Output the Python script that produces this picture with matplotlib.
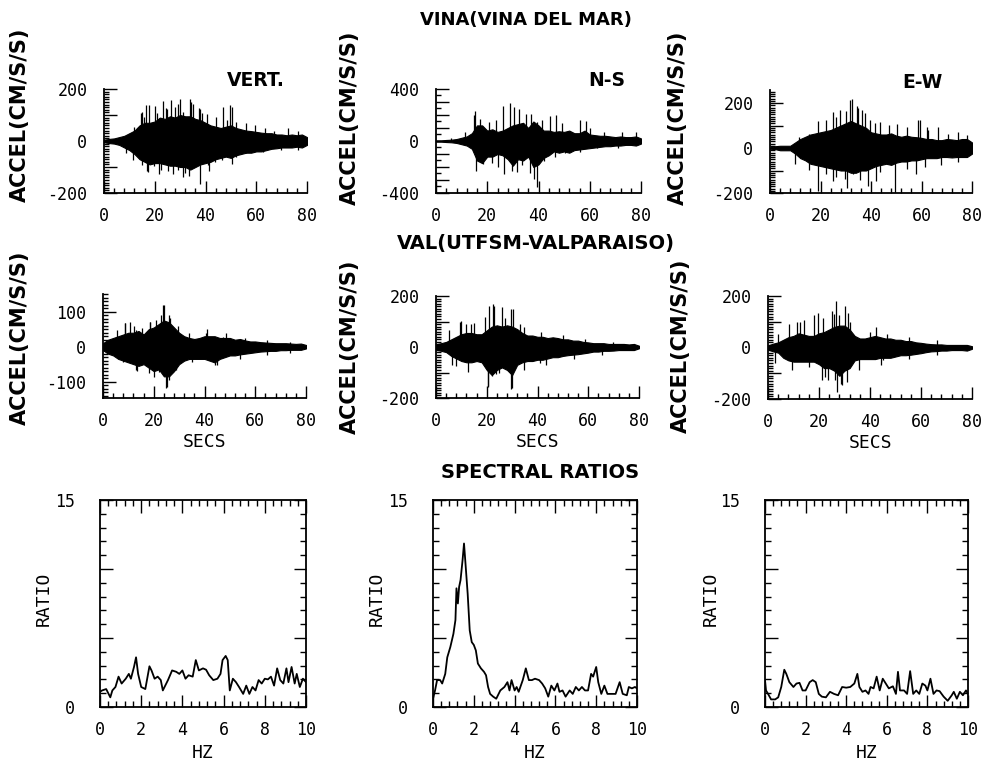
import numpy as np
import matplotlib
matplotlib.use('Agg')
import matplotlib.pyplot as plt
from matplotlib.ticker import MultipleLocator, FuncFormatter

plt.rcParams['axes.unicode_minus'] = False

W, H = 986, 762

## Accelerogram envelopes, sampled every 2 s (cm/s/s)
t_env = np.arange(0, 81, 2)

vina_vert_up = [5, 8, 10, 15, 20, 30, 40, 60, 70, 70, 75, 90, 85, 95, 90, 100, 95, 95, 85, 80, 70,
                60, 55, 50, 55, 60, 50, 45, 40, 38, 35, 32, 30, 30, 25, 25, 22, 25, 22, 25, 15]
vina_vert_lo = [-5, -8, -10, -15, -25, -35, -50, -70, -80, -90, -85, -85, -90, -95, -95, -100, -100, -110, -100, -90, -85,
                -80, -70, -65, -60, -65, -55, -50, -45, -45, -40, -40, -35, -30, -28, -25, -25, -25, -22, -25, -15]
vina_vert_spk_t = [15, 16.7, 20, 23.3, 25, 28, 30, 33.7, 35, 38, 40.7, 48.5, 50.5,
                   17.4, 21.6, 27, 31, 33.5, 38, 41.3, 50.5,
                   12, 14.5, 15.9, 17.6, 21, 24.4, 26.5, 29.2, 31.3, 34.3, 37.4, 38.8, 44.3, 47, 49.8,
                   51.9, 56, 59.4, 63.5, 67, 72.4, 76.5,
                   8.6, 11.4, 14.8, 16.9, 19.6, 22.4, 25.1, 29.2, 32, 35.4, 40.9, 43.6, 46.4, 52, 56,
                   62.8, 69.7, 76.5]
vina_vert_spk_v = [110, 140, 135, 155, 122, 132, 160, 162, 141, 122, 104, 79, 129,
                   -121, -127, -127, -140, -134, -165, -115, -90,
                   55, 106, 94, 138, 106, 125, 158, 144, 113, 151, 125, 106, 94, 132, 138,
                   74, 68, 61, 49, 38, 49, 38,
                   -48, -73, -92, -117, -98, -112, -117, -112, -124, -98, -92, -79, -73, -60, -48,
                   -41, -34, -34]

vina_ns_up = [5, 5, 8, 10, 15, 25, 35, 60, 120, 120, 80, 90, 70, 80, 100, 120, 130, 140, 100, 150, 120,
              80, 80, 70, 75, 70, 80, 60, 60, 80, 50, 45, 40, 40, 35, 30, 35, 30, 30, 35, 20]
vina_ns_lo = [-5, -5, -8, -10, -15, -25, -35, -60, -150, -170, -120, -120, -100, -110, -140, -190, -140, -150, -120, -200, -180,
              -130, -110, -80, -90, -80, -90, -70, -65, -60, -55, -50, -45, -40, -40, -35, -35, -30, -30, -35, -20]
vina_ns_spk_t = [15.3, 17, 28.8, 32.5, 35, 37, 44.5, 58.5,
                 15.5, 18.5, 26.5, 29.5, 36.5, 38.3, 39.3, 42,
                 5.8, 11.3, 14.7, 20.8, 23.5, 26.2, 30.5, 39.5, 41.2, 47, 49.3, 56.1, 60.2, 65.6, 72.4, 77.9,
                 17.8, 21.9, 24, 31.5, 33.5, 41.7, 46.5, 50.5, 56, 62.9, 71]
vina_ns_spk_v = [232, 170, 290, 245, 208, 208, 195, 150,
                 -230, -180, -255, -230, -243, -292, -355, -155,
                 20, 72, 200, 148, 161, 270, 264, 148, 161, 200, 136, 161, 97, 72, 72, 72,
                 -146, -172, -197, -236, -184, -133, -120, -95, -82, -56, -56]

vina_ew_up = [3, 8, 10, 10, 10, 25, 40, 50, 60, 65, 70, 75, 80, 90, 100, 110, 120, 110, 100, 90, 70,
              65, 60, 60, 65, 55, 50, 55, 50, 48, 45, 40, 40, 35, 35, 40, 38, 35, 40, 40, 25]
vina_ew_lo = [-3, -5, -10, -10, -10, -25, -45, -55, -70, -75, -80, -85, -90, -95, -100, -100, -110, -110, -100, -100, -90,
              -80, -75, -70, -75, -65, -60, -60, -55, -55, -50, -45, -45, -45, -40, -40, -42, -40, -40, -40, -25]
vina_ew_spk_t = [19.2, 26, 30, 32.5, 35, 37.5, 41.5, 59.5, 62,
                 19, 25, 30.5, 39, 42, 49.5, 58,
                 11.4, 15.5, 22.2, 24.9, 27.6, 31.6, 34.3, 36.3, 39.7, 43.7, 47, 50.4, 54.4, 58.5, 62.5,
                 66.5, 70.6, 74.6, 78,
                 10, 15.5, 22.2, 26.2, 29.6, 32.9, 35.6, 43.7, 54.4, 61.2, 67.9, 74.6]
vina_ew_spk_v = [118, 136, 164, 217, 179, 156, 110, 126, 95,
                 -192, -147, -177, -170, -147, -200, -117,
                 49, 64, 123, 160, 167, 212, 189, 167, 123, 115, 101, 108, 93, 123, 78,
                 93, 64, 71, 56,
                 -70, -99, -114, -129, -136, -114, -144, -107, -92, -84, -77, -62]

val_vert_up = [10, 20, 25, 30, 35, 40, 40, 45, 35, 50, 55, 65, 75, 70, 55, 40, 30, 25, 22, 25, 30,
               30, 30, 25, 25, 25, 20, 22, 18, 15, 15, 13, 12, 11, 10, 10, 10, 9, 8, 9, 5]
val_vert_lo = [-10, -20, -25, -35, -40, -45, -50, -55, -50, -60, -70, -65, -85, -85, -70, -50, -40, -35, -35, -35, -35,
               -40, -45, -35, -30, -25, -25, -22, -20, -18, -16, -14, -13, -12, -12, -10, -10, -9, -9, -9, -5]
val_vert_spk_t = [8.5, 10.5, 13, 18.5, 23, 24, 26, 41, 48.5,
                  13.5, 18, 20, 25, 26, 45,
                  5.5, 8.8, 12.1, 15.4, 18.7, 20.9, 23.7, 26.4, 29.7, 34, 40.7, 47.3, 56, 64.8, 73.6,
                  7.7, 13.2, 18.7, 22, 25.3, 28.6, 35.2, 44, 53.8, 64.8, 73.6]
val_vert_spk_v = [67, 71, 48, 71, 90, 119, 90, 52, 38,
                  -71, -76, -86, -119, -95, -52,
                  48, 67, 58, 53, 72, 77, 120, 82, 58, 38, 38, 29, 24, 19, 14,
                  -43, -67, -62, -72, -115, -67, -43, -53, -34, -24, -19]

val_ns_up = [10, 15, 20, 30, 40, 50, 55, 55, 50, 50, 65, 80, 85, 80, 85, 80, 70, 55, 45, 45, 40,
             40, 35, 38, 35, 30, 30, 25, 25, 20, 18, 15, 15, 15, 12, 12, 12, 12, 10, 12, 5]
val_ns_lo = [-10, -15, -20, -35, -45, -55, -60, -60, -55, -60, -90, -110, -90, -80, -90, -110, -70, -60, -55, -55, -50,
             -50, -45, -40, -40, -35, -32, -30, -28, -25, -22, -18, -18, -15, -15, -14, -12, -12, -12, -12, -5]
val_ns_spk_t = [10, 12, 15, 21, 23, 27, 29.5, 33,
                8, 20.5, 22, 25, 30, 41,
                5.1, 9.5, 13.8, 19.3, 22.6, 25.9, 30.3, 34.7, 41.3, 50.1, 58.9, 69.9,
                6.2, 12.7, 20.4, 23.7, 29.6, 34.7, 43.5, 54.5, 65.5]
val_ns_spk_v = [102, 89, 95, 161, 161, 115, 148, 89,
                -75, -153, -114, -100, -160, -61,
                66, 98, 92, 118, 170, 157, 150, 79, 59, 46, 33, 20,
                -72, -98, -157, -105, -164, -92, -72, -46, -33]

val_ew_up = [8, 15, 20, 30, 40, 45, 55, 50, 45, 45, 55, 60, 70, 80, 85, 85, 70, 45, 35, 35, 40,
             45, 40, 35, 35, 30, 30, 25, 25, 20, 18, 15, 13, 12, 12, 10, 10, 10, 10, 10, 5]
val_ew_lo = [-8, -15, -20, -40, -50, -55, -55, -55, -55, -55, -65, -80, -80, -90, -110, -90, -80, -50, -45, -45, -45,
             -45, -40, -40, -40, -35, -30, -30, -28, -25, -22, -18, -15, -14, -12, -12, -10, -10, -10, -12, -5]
val_ew_spk_t = [11.5, 14, 19.5, 25, 26.5, 28, 30, 31.5, 42.5,
                21, 23.5, 27, 28.5, 31, 45,
                3.9, 8.3, 12.7, 18.1, 21.4, 25.8, 32.3, 40, 46.6, 55.3, 66.2,
                2.8, 9.4, 16, 22.5, 26.4, 29.1, 35.6, 44.4, 55.3, 66.2]
val_ew_spk_v = [100, 107, 133, 140, 180, 127, 160, 133, 80,
                -127, -127, -173, -140, -133, -47,
                54, 93, 100, 126, 113, 132, 100, 61, 54, 41, 28,
                -62, -88, -75, -114, -127, -146, -88, -69, -43, -30]

## Spectral ratios VINA / VAL
vert_f = [0.0, 0.1, 0.3, 0.5, 0.6, 0.75, 0.9, 1.05, 1.25, 1.4, 1.5, 1.65, 1.75, 1.85, 2.0, 2.2, 2.4, 2.5,
          2.65, 2.8, 2.95, 3.05, 3.3, 3.5, 3.7, 3.85, 4.0, 4.15, 4.3, 4.5, 4.65, 4.8, 5.0, 5.15, 5.3, 5.5,
          5.7, 5.85, 5.95, 6.1, 6.2, 6.3, 6.45, 6.6, 6.75, 6.95, 7.1, 7.25, 7.4, 7.55, 7.7, 7.85, 8.0, 8.15,
          8.3, 8.45, 8.6, 8.75, 8.9, 9.05, 9.15, 9.3, 9.45, 9.55, 9.7, 9.85, 10.0]
vert_r = [1.1, 1.2, 1.3, 0.7, 1.2, 1.45, 2.2, 1.7, 2.05, 2.4, 2.05, 2.9, 3.6, 2.4, 1.45, 1.3, 2.95, 2.65,
          2.05, 2.2, 1.95, 1.2, 1.95, 2.65, 2.55, 2.4, 2.65, 2.05, 2.3, 2.2, 3.4, 2.65, 2.8, 2.7, 2.3, 1.95,
          2.05, 2.4, 3.4, 3.7, 3.4, 1.2, 2.05, 1.8, 1.45, 0.95, 1.55, 0.95, 1.45, 1.2, 1.95, 1.7, 2.05, 2.0,
          2.2, 1.55, 2.8, 1.95, 1.7, 2.8, 1.8, 2.9, 1.7, 2.4, 1.45, 2.05, 1.8]

ns_f = [0.0, 0.1, 0.2, 0.35, 0.45, 0.6, 0.7, 0.85, 1.0, 1.1, 1.15, 1.22, 1.28, 1.35, 1.45, 1.52, 1.58, 1.7,
        1.8, 1.9, 2.0, 2.1, 2.2, 2.35, 2.5, 2.6, 2.7, 2.8, 2.95, 3.1, 3.3, 3.5, 3.65, 3.75, 3.85, 4.0, 4.1,
        4.2, 4.4, 4.55, 4.7, 4.85, 5.0, 5.2, 5.35, 5.5, 5.65, 5.8, 5.95, 6.1, 6.2, 6.35, 6.5, 6.7, 6.85,
        7.0, 7.15, 7.3, 7.45, 7.6, 7.75, 7.85, 8.0, 8.1, 8.25, 8.4, 8.55, 8.75, 8.95, 9.15, 9.3, 9.5, 9.6,
        9.75, 9.9, 10.0]
ns_r = [0.6, 1.2, 1.95, 1.95, 1.7, 2.4, 3.6, 4.35, 5.3, 6.3, 8.6, 7.5, 8.7, 9.2, 10.65, 11.85, 10.65, 8.2,
        5.55, 4.7, 4.5, 4.1, 3.15, 2.8, 2.55, 2.3, 1.45, 0.95, 0.75, 0.6, 1.2, 1.45, 1.8, 1.2, 1.95, 1.2, 1.45,
        1.1, 1.95, 2.8, 1.95, 1.95, 2.05, 1.95, 1.7, 1.35, 0.75, 1.55, 1.2, 1.7, 1.1, 1.2, 0.75, 1.2, 0.95,
        1.45, 1.2, 1.45, 1.2, 1.2, 2.4, 2.2, 2.9, 1.8, 0.95, 1.55, 0.95, 0.95, 0.95, 1.8, 0.95, 0.85, 1.45,
        1.35, 1.45, 1.35]

ew_f = [0.0, 0.05, 0.15, 0.3, 0.5, 0.65, 0.8, 0.95, 1.05, 1.2, 1.4, 1.55, 1.7, 1.85, 2.0, 2.2, 2.35, 2.5,
        2.65, 2.8, 3.0, 3.2, 3.4, 3.6, 3.8, 4.0, 4.2, 4.4, 4.55, 4.65, 4.8, 4.95, 5.1, 5.2, 5.35, 5.5, 5.65,
        5.8, 5.95, 6.1, 6.3, 6.45, 6.55, 6.65, 6.85, 7.0, 7.15, 7.3, 7.45, 7.6, 7.75, 7.9, 8.0, 8.15, 8.3,
        8.45, 8.6, 8.8, 9.0, 9.2, 9.3, 9.45, 9.6, 9.75, 9.9, 10.0]
ew_r = [1.95, 1.2, 0.95, 0.55, 0.55, 0.7, 1.45, 2.7, 2.4, 1.8, 1.45, 1.7, 1.75, 1.2, 1.2, 1.8, 1.95, 1.8,
        0.95, 0.75, 0.7, 1.1, 0.95, 0.85, 1.45, 1.4, 1.45, 1.7, 2.4, 1.45, 1.1, 1.2, 0.95, 1.45, 1.35, 2.2, 1.2,
        2.05, 1.7, 1.35, 1.5, 0.95, 2.55, 1.2, 1.2, 0.95, 2.6, 0.95, 1.2, 0.95, 1.7, 1.55, 1.2, 2.05, 0.95,
        1.2, 1.15, 0.75, 0.45, 0.85, 1.1, 0.6, 1.1, 0.85, 1.2, 0.95]

MONO = 'DejaVu Sans Mono'
BOLD = dict(family='DejaVu Sans', fontweight='bold')

fig = plt.figure(figsize=(W / 100, H / 100), dpi=100)

#____________________________________________________________________________________________________
def add_ax(x0, x1, ytop, ybot):
    return fig.add_axes([x0 / W, 1 - ybot / H, (x1 - x0) / W, (ybot - ytop) / H])

def label_every(step):
    return FuncFormatter(lambda v, p: f'{int(round(v))}' if abs(v / step - round(v / step)) < 1e-6 else '')

#____________________________________________________________________________________________________
def seismo(box, ylim, up, lo, spk_t, spk_v, ymajor, ylabstep, yminor, xlabel=False):
    ax = add_ax(*box)
    ax.fill_between(t_env, lo, up, color='black', linewidth=0.8)
    ax.vlines(spk_t, 0, spk_v, color='black', linewidth=0.9)
    ax.set_xlim(0, 80)
    ax.set_ylim(*ylim)
    for s in ['top', 'right']: ax.spines[s].set_visible(False)
    for s in ['left', 'bottom']: ax.spines[s].set_linewidth(1.3)
    ax.xaxis.set_major_locator(MultipleLocator(20))
    ax.xaxis.set_minor_locator(MultipleLocator(4))
    ax.yaxis.set_major_locator(MultipleLocator(ymajor))
    ax.yaxis.set_minor_locator(MultipleLocator(yminor))
    ax.yaxis.set_major_formatter(label_every(ylabstep))
    ax.tick_params(which='both', direction='in', width=1.0, labelsize=12)
    ax.tick_params(which='major', length=9)
    ax.tick_params(which='minor', length=3.5)
    ax.tick_params(axis='y', pad=12)
    ax.tick_params(axis='x', pad=10)
    for lab in ax.get_xticklabels() + ax.get_yticklabels(): lab.set_family(MONO)
    if xlabel: ax.set_xlabel('SECS', family=MONO, fontsize=13, labelpad=2)
    return ax

def spectral(box, f, r):
    ax = add_ax(*box)
    ax.plot(f, r, color='black', linewidth=1.3)
    ax.set_xlim(0, 10)
    ax.set_ylim(0, 15)
    for s in ax.spines.values(): s.set_linewidth(1.3)
    ax.xaxis.set_major_locator(MultipleLocator(2))
    ax.xaxis.set_minor_locator(MultipleLocator(0.4))
    ax.yaxis.set_major_locator(MultipleLocator(5))
    ax.yaxis.set_minor_locator(MultipleLocator(1))
    ax.yaxis.set_major_formatter(label_every(15))
    ax.tick_params(which='both', direction='in', top=True, right=True, width=1.0, labelsize=12)
    ax.tick_params(which='major', length=9)
    ax.tick_params(which='minor', length=4)
    ax.tick_params(axis='y', pad=18)
    ax.tick_params(axis='x', pad=10)
    for lab in ax.get_xticklabels() + ax.get_yticklabels(): lab.set_family(MONO)
    ax.set_xlabel('HZ', family=MONO, fontsize=13, labelpad=4)
    return ax

#____________________________________________________________________________________________________
def main():
    ## Row 1: VINA
    seismo((104, 307, 89, 193), (-200, 200), vina_vert_up, vina_vert_lo, vina_vert_spk_t, vina_vert_spk_v, 100, 200, 10)
    seismo((436, 641, 89, 193), (-400, 400), vina_ns_up, vina_ns_lo, vina_ns_spk_t, vina_ns_spk_v, 100, 400, 50)
    seismo((770, 972, 90, 193), (-200, 258), vina_ew_up, vina_ew_lo, vina_ew_spk_t, vina_ew_spk_v, 100, 200, 10)

    ## Row 2: VAL
    seismo((103, 306, 294, 398), (-147, 151), val_vert_up, val_vert_lo, val_vert_spk_t, val_vert_spk_v, 100, 100, 10, True)
    seismo((436, 639, 296, 398), (-200, 200), val_ns_up, val_ns_lo, val_ns_spk_t, val_ns_spk_v, 100, 200, 10, True)
    seismo((768, 972, 296, 399), (-200, 200), val_ew_up, val_ew_lo, val_ew_spk_t, val_ew_spk_v, 100, 200, 10, True)

    ## Row 3: spectral ratios
    spectral((100, 306, 500, 707), vert_f, vert_r)
    spectral((433, 637, 500, 707), ns_f, ns_r)
    spectral((765, 968, 500, 707), ew_f, ew_r)

    ## Titles and labels
    fig.text(526 / W, 1 - 20 / H, 'VINA(VINA DEL MAR)', ha='center', va='center', fontsize=13, **BOLD)
    fig.text(536 / W, 1 - 243 / H, 'VAL(UTFSM-VALPARAISO)', ha='center', va='center', fontsize=14, **BOLD)
    fig.text(540 / W, 1 - 473 / H, 'SPECTRAL RATIOS', ha='center', va='center', fontsize=14, **BOLD)
    fig.text(256 / W, 1 - 80 / H, 'VERT.', ha='center', va='center', fontsize=13.5, **BOLD)
    fig.text(607 / W, 1 - 80 / H, 'N-S', ha='center', va='center', fontsize=13.5, **BOLD)
    fig.text(922 / W, 1 - 82 / H, 'E-W', ha='center', va='center', fontsize=13.5, **BOLD)

    for x, y in [(20, 115), (350, 118), (678, 118), (20, 338), (350, 347), (681, 346)]:
        fig.text(x / W, 1 - y / H, 'ACCEL(CM/S/S)', ha='center', va='center', rotation=90, fontsize=15, **BOLD)
    for x in [44, 377, 711]:
        fig.text(x / W, 1 - 599 / H, 'RATIO', ha='center', va='center', rotation=90, family=MONO, fontsize=13)

    fig.savefig('out.png', dpi=100)
    plt.close(fig)

#____________________________________________________________________________________________________
if __name__ == "__main__": main()
